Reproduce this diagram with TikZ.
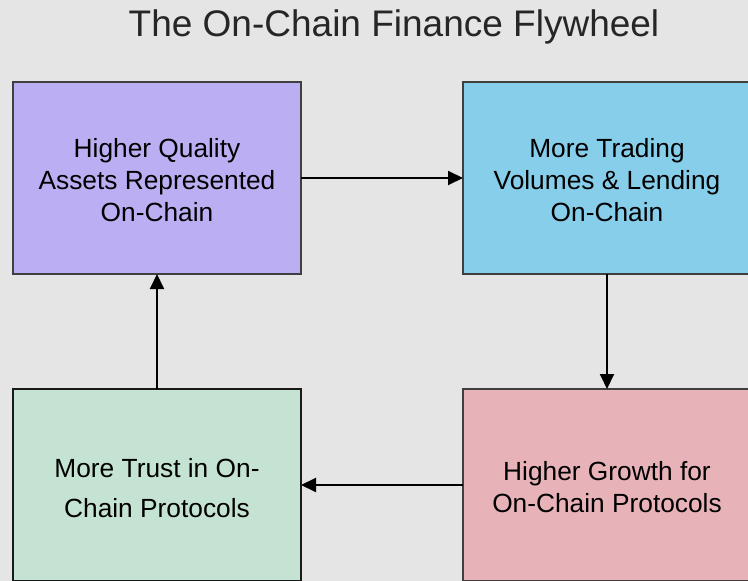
\documentclass[tikz,border=0pt]{standalone}
\usepackage{fontspec}
\setmainfont{Liberation Sans}
\usetikzlibrary{arrows.meta}
\definecolor{bgc}{HTML}{E5E5E5}
\definecolor{cpurple}{HTML}{BBAEF3}
\definecolor{cblue}{HTML}{87CEEB}
\definecolor{cpink}{HTML}{E8B3B8}
\definecolor{cgreen}{HTML}{C5E3D3}
\definecolor{cborder}{HTML}{3F3F3F}
\definecolor{ctitle}{HTML}{262626}
\tikzset{
  flybox/.style={draw=cborder, line width=2bp, rectangle, minimum width=288bp, minimum height=192bp,
    inner sep=0pt, outer sep=0pt},
  flytext/.style={align=center, inner sep=0pt, font=\fontsize{26.3bp}{31.8bp}\selectfont, text=black},
  flyarrow/.style={draw=black, line width=2bp, -{Triangle[length=15bp,width=14bp]}}
}
\begin{document}
\begin{tikzpicture}[x=1bp,y=-1bp]
\clip (0,0) rectangle (748,581);
\fill[bgc] (0,0) rectangle (748,581);
\node[anchor=base, text=ctitle, font=\fontsize{37bp}{44bp}\selectfont] (title) at (394,37) {The On-Chain Finance Flywheel};
\node[flybox, fill=cpurple] (tl) at (157,178) {};
\node[flybox, fill=cblue] (tr) at (607,178) {};
\node[flybox, fill=cpink] (br) at (607,485) {};
\node[flybox, fill=cgreen, draw=black!90] (bl) at (157,485) {};
\node[flytext] (tltext) at (157,180) {Higher Quality\\Assets Represented\\On-Chain};
\node[flytext] (trtext) at (607,180) {More Trading\\Volumes \& Lending\\On-Chain};
\node[flytext] (brtext) at (607,487) {Higher Growth for\\On-Chain Protocols};
\node[flytext] (bltext) at (157,488) {More Trust in On-\\[9bp]Chain Protocols};
\draw[flyarrow] (tl.east) -- (tr.west);
\draw[flyarrow] (tr.south) -- (br.north);
\draw[flyarrow] (br.west) -- (bl.east);
\draw[flyarrow] (bl.north) -- (tl.south);
\end{tikzpicture}
\end{document}
